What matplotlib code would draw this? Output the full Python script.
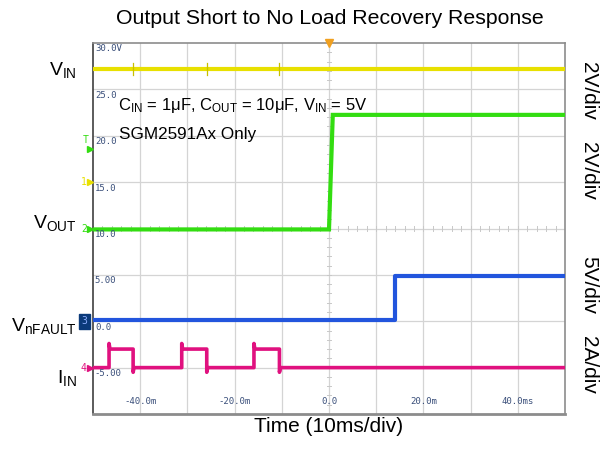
import matplotlib
matplotlib.use("Agg")
import matplotlib.pyplot as plt
import numpy as np

plt.rcParams['font.family'] = ['Liberation Sans', 'DejaVu Sans']
plt.rcParams['mathtext.fontset'] = 'custom'
plt.rcParams['mathtext.rm'] = 'Liberation Sans'
plt.rcParams['mathtext.it'] = 'Liberation Sans'

# ---- data (time in ms, screen value in scope grid units, 5 per division) ----
vin_t = [-50, 50]
vin_v = [27.2, 27.2]
vin_glitch_t = [-41.5, -25.9, -10.5]

vout_t = [-50, 0.0, 0.8, 50]
vout_v = [9.9, 9.9, 22.25, 22.25]

nfault_t = [-50, 14.0, 14.0, 50]
nfault_v = [0.1, 0.1, 4.9, 4.9]

iin_t = [-50, -46.6, -46.6, -46.4, -41.5, -41.5, -41.3,
         -31.2, -31.2, -31.0, -25.9, -25.9, -25.7,
         -15.9, -15.9, -15.7, -10.5, -10.5, -10.3, 50]
iin_v = [-5.0, -5.0, -2.4, -3.0, -3.0, -5.5, -5.0,
         -5.0, -2.4, -3.0, -3.0, -5.5, -5.0,
         -5.0, -2.4, -3.0, -3.0, -5.5, -5.0, -5.0]

ytick_vals = [30, 25, 20, 15, 10, 5, 0, -5]
ytick_text = ["30.0V", "25.0", "20.0", "15.0", "10.0", "5.00", "0.0", "-5.00"]
xtick_vals = [-40, -20, 0, 20, 40]
xtick_text = ["-40.0m", "-20.0m", "0.0", "20.0m", "40.0ms"]

ch_names = [r"V$_{\mathregular{IN}}$", r"V$_{\mathregular{OUT}}$",
            r"V$_{\mathregular{nFAULT}}$", r"I$_{\mathregular{IN}}$"]
ch_scales = ["2V/div", "2V/div", "5V/div", "2A/div"]

c_yel = "#e8e000"
c_grn = "#33dd11"
c_blu = "#2255dd"
c_pnk = "#e0117f"

fig = plt.figure(figsize=(6.11, 4.67), dpi=100)
ax = fig.add_axes([93/611, 1-414/467, 472/611, 371/467])
ax.set_xlim(-50, 50)
ax.set_ylim(-10, 30)

# grid
for x in np.arange(-40, 50, 10):
    ax.axvline(x, color="#d4d4d4", lw=0.9, zorder=1)
for y in np.arange(-5, 30, 5):
    ax.axhline(y, color="#d4d4d4", lw=0.9, zorder=1)
# minor ticks on centre lines
for x in np.arange(-50, 50.01, 2):
    ax.plot([x, x], [9.7, 10.3], color="#c8c8c8", lw=0.7, zorder=1)
for y in np.arange(-10, 30.01, 1):
    ax.plot([-0.4, 0.4], [y, y], color="#c8c8c8", lw=0.7, zorder=1)

# traces
ax.plot(vin_t, vin_v, color=c_yel, lw=3.0, zorder=3)
for t in vin_glitch_t:
    ax.plot([t, t], [26.6, 27.8], color="#c8c000", lw=0.9, zorder=3)
ax.plot(vout_t, vout_v, color=c_grn, lw=3.0, zorder=3, solid_joinstyle="miter")
ax.plot(nfault_t, nfault_v, color=c_blu, lw=3.0, zorder=3)
ax.plot(iin_t, iin_v, color=c_pnk, lw=2.6, zorder=3)

# scope tick labels inside
tk = dict(fontsize=6.5, family="DejaVu Sans Mono", color="#3a4f7a", zorder=4)
for v, s in zip(ytick_vals, ytick_text):
    ax.text(-49.6, v - 0.15, s, va="top", ha="left", **tk)
for v, s in zip(xtick_vals, xtick_text):
    ax.text(v, -8.6, s, va="center", ha="center", **tk)

ax.set_xticks([])
ax.set_yticks([])
for side in ["top", "right"]:
    ax.spines[side].set_color("#8c8c8c")
    ax.spines[side].set_linewidth(1.2)
ax.spines["bottom"].set_color("#8c8c8c")
ax.spines["bottom"].set_linewidth(2.0)
ax.spines["left"].set_color("#404040")
ax.spines["left"].set_linewidth(1.2)

# trigger marker at top
ax.plot([0], [30], marker="v", color="#f0a020", ms=6, clip_on=False, zorder=5)
# channel markers on left edge
mk = dict(clip_on=False, zorder=5)
ax.plot([-50.6], [18.6], marker=">", color=c_grn, ms=4, **mk)
ax.text(-51.0, 19.5, "T", color=c_grn, fontsize=7, ha="right", va="center", family="DejaVu Sans Mono")
ax.plot([-50.6], [15.0], marker=">", color=c_yel, ms=4, **mk)
ax.text(-51.3, 15.0, "1", color=c_yel, fontsize=7, ha="right", va="center", family="DejaVu Sans Mono")
ax.plot([-50.6], [10.0], marker=">", color=c_grn, ms=4, **mk)
ax.text(-51.3, 10.0, "2", color=c_grn, fontsize=7, ha="right", va="center", family="DejaVu Sans Mono")
ax.text(-51.8, 0.0, "3", color="#8fb0ff", fontsize=7, ha="center", va="center", family="DejaVu Sans Mono",
        bbox=dict(boxstyle="square,pad=0.25", fc="#0b3a7a", ec="#0b3a7a"), clip_on=False, zorder=5)
ax.plot([-50.6], [-5.0], marker=">", color=c_pnk, ms=4, **mk)
ax.text(-51.3, -5.0, "4", color=c_pnk, fontsize=7, ha="right", va="center", family="DejaVu Sans Mono")

# annotations
ax.text(-44.7, 23.3, r"C$_{\mathregular{IN}}$ = 1μF, C$_{\mathregular{OUT}}$ = 10μF, V$_{\mathregular{IN}}$ = 5V",
        fontsize=12, ha="left", va="center", zorder=6)
ax.text(-44.5, 20.1, "SGM2591Ax Only", fontsize=12.3, ha="left", va="center", zorder=6)

# channel names (left) and scales (right)
name_y = [70, 223, 326, 378]
for s, y in zip(ch_names, name_y):
    fig.text(77/611, 1 - y/467, s, fontsize=14, ha="right", va="center")
scale_y = [91, 171, 285, 365]
for s, y in zip(ch_scales, scale_y):
    fig.text(589/611, 1 - y/467, s, fontsize=15, ha="center", va="center", rotation=-90)

fig.text(330/611, 1 - 18/467, "Output Short to No Load Recovery Response", fontsize=15.3, ha="center", va="center")
fig.text(329/611, 1 - 427/467, "Time (10ms/div)", fontsize=15, ha="center", va="center")

fig.savefig("out.png", dpi=100)
